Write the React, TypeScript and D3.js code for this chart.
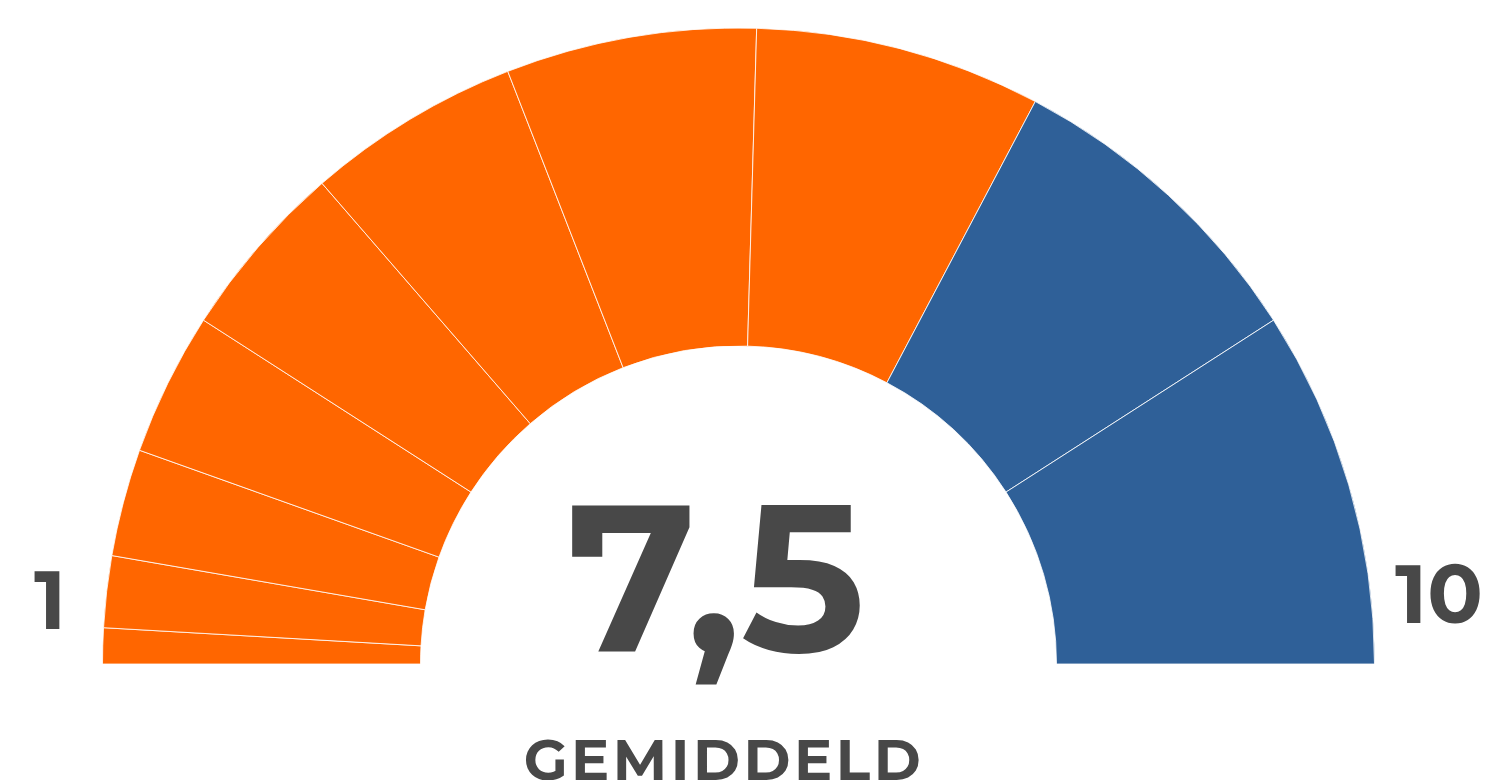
import React from "react";
import * as d3 from "d3";

const scores = [1, 2, 3, 4, 5, 6, 7, 8, 9, 10];
const colors = ["#FF6600", "#FF6600", "#FF6600", "#FF6600", "#FF6600", "#FF6600", "#FF6600", "#FF6600", "#2F6098", "#2F6098"];
const averageLabel = "7,5";
const subtitle = "GEMIDDELD";
const minLabel = "1";
const maxLabel = "10";

const W = 1503;
const H = 780;
const cx = 738.5;
const cy = 664;
const outerR = 636;
const innerR = 318;
const font = "Montserrat, 'DejaVu Sans', sans-serif";
const textColor = "#484848";

export default function App() {
  const pie = d3
    .pie<number>()
    .sort(null)
    .value((d) => d)
    .startAngle(-Math.PI / 2)
    .endAngle(Math.PI / 2);
  const arc = d3.arc<d3.PieArcDatum<number>>().innerRadius(innerR).outerRadius(outerR);
  const arcs = pie(scores);

  return (
    <svg width={W} height={H} style={{ position: "absolute", left: 0, top: 0, display: "block" }}>
      <g transform={`translate(${cx},${cy})`}>
        {arcs.map((a, i) => (
          <path key={i} d={arc(a) || ""} fill={colors[i]} stroke="#ffffff" strokeWidth={0.8} />
        ))}
      </g>
      <text x={50} y={629} textAnchor="middle" fontFamily={font} fontWeight="bold" fontSize={82} fill={textColor}>
        {minLabel}
      </text>
      <text x={1439} y={623} textAnchor="middle" fontFamily={font} fontWeight="bold" fontSize={82} fill={textColor}>
        {maxLabel}
      </text>
      <text x={716} y={652} textAnchor="middle" fontFamily={font} fontWeight="bold" fontSize={209} fill={textColor}>
        {averageLabel}
      </text>
      <text x={724} y={780} textAnchor="middle" fontFamily={font} fontWeight="bold" fontSize={57} fill={textColor} letterSpacing={3.5}>
        {subtitle}
      </text>
    </svg>
  );
}
